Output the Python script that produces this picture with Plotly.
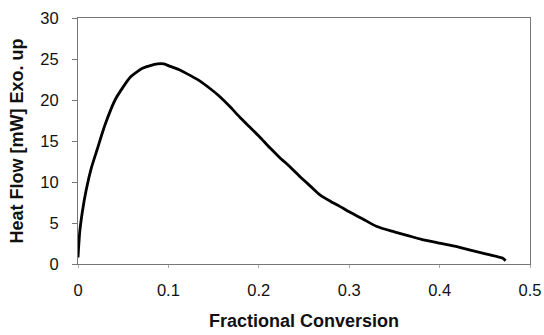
import plotly.graph_objects as go

conversion = [0.0, 0.002, 0.005, 0.009, 0.015, 0.021, 0.030, 0.041, 0.050, 0.058, 0.066, 0.072,
              0.080, 0.088, 0.095, 0.102, 0.112, 0.124, 0.135, 0.146, 0.157, 0.168, 0.179,
              0.190, 0.201, 0.212, 0.223, 0.235, 0.246, 0.257, 0.268, 0.280, 0.290, 0.301,
              0.315, 0.330, 0.347, 0.364, 0.380, 0.397, 0.415, 0.434, 0.452, 0.470, 0.473]
heat_flow = [0.8, 4.0, 6.5, 9.0, 11.8, 13.9, 17.0, 20.0, 21.6, 22.8, 23.5, 23.9,
             24.2, 24.4, 24.4, 24.1, 23.7, 23.0, 22.3, 21.4, 20.4, 19.2, 17.9,
             16.7, 15.5, 14.2, 13.0, 11.8, 10.6, 9.5, 8.4, 7.6, 7.0, 6.3,
             5.5, 4.6, 4.0, 3.5, 3.0, 2.6, 2.2, 1.7, 1.2, 0.7, 0.4]

x_ticks = [0, 0.1, 0.2, 0.3, 0.4, 0.5]
x_labels = ["0", "0.1", "0.2", "0.3", "0.4", "0.5"]
y_ticks = [0, 5, 10, 15, 20, 25, 30]

fig = go.Figure()
fig.add_trace(go.Scatter(x=conversion, y=heat_flow, mode="lines",
                         line=dict(color="black", width=2.8, shape="spline", smoothing=0.6),
                         showlegend=False, hoverinfo="skip"))

font = dict(family="Liberation Sans, Arial, sans-serif", color="#111", size=16.5)
fig.update_layout(
    width=544, height=335,
    margin=dict(l=78, r=14, t=18, b=71),
    paper_bgcolor="white", plot_bgcolor="white",
    font=font,
    xaxis=dict(range=[0, 0.5], tickvals=x_ticks, ticktext=x_labels,
               showgrid=False, zeroline=False, automargin=False,
               showline=True, linecolor="#777", linewidth=1, mirror=True,
               ticks="outside", ticklen=3, tickcolor="#aaa",
               ticklabelstandoff=8,
               title=dict(text="<b>Fractional Conversion</b>", font=dict(size=18), standoff=16)),
    yaxis=dict(range=[0, 30], tickvals=y_ticks,
               showgrid=False, zeroline=False, automargin=False,
               showline=True, linecolor="#777", linewidth=1, mirror=True,
               ticks="outside", ticklen=5, tickcolor="#777",
               ticklabelstandoff=10,
               title=dict(text="<b>Heat Flow [mW] Exo. up</b>", font=dict(size=18), standoff=12)),
)
fig.write_html("out.html")
